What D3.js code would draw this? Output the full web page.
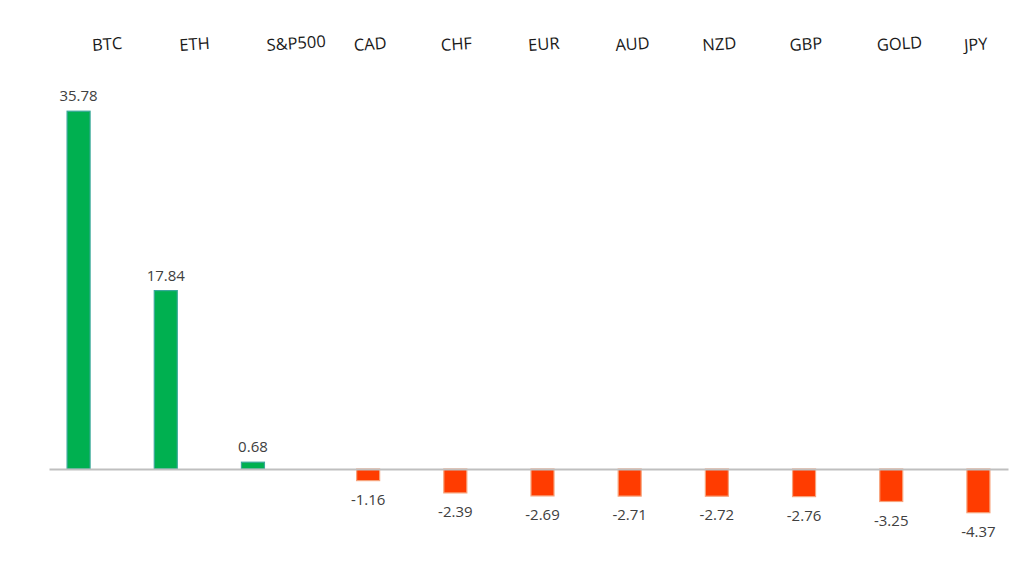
<!DOCTYPE html>
<html>
<head>
<meta charset="utf-8">
<script src="https://cdn.jsdelivr.net/npm/d3@7/dist/d3.min.js"></script>
<style>
  html, body { margin: 0; padding: 0; background: #fff; }
  svg { display: block; }
</style>
</head>
<body>
<script>
const categories = ["BTC", "ETH", "S&P500", "CAD", "CHF", "EUR", "AUD", "NZD", "GBP", "GOLD", "JPY"];
const values = [35.78, 17.84, 0.68, -1.16, -2.39, -2.69, -2.71, -2.72, -2.76, -3.25, -4.37];
const seriesNames = ["gain", "loss"];

const W = 1024, H = 576;
const svg = d3.select("body").append("svg").attr("width", W).attr("height", H);

const x = d3.scaleBand().domain(categories).range([49, 1008]).padding(0);
const xs = d3.scaleBand().domain(seriesNames).range([0, x.bandwidth()])
  .paddingInner(0.1786).paddingOuter(0.646);
const y = d3.scaleLinear().domain([-5, 40]).range([519, 69]);

const data = categories.map((c, i) => ({ cat: c, v: values[i], s: values[i] >= 0 ? "gain" : "loss" }));

// bars
svg.append("g").selectAll("rect").data(data).join("rect")
  .attr("x", d => x(d.cat) + xs(d.s))
  .attr("width", xs.bandwidth())
  .attr("y", d => y(Math.max(0, d.v)))
  .attr("height", d => Math.abs(y(d.v) - y(0)))
  .attr("fill", d => d.v >= 0 ? "#00B050" : "#FF3C00")
  .attr("stroke", d => d.v >= 0 ? "#3AA89A" : "#F7A27A")
  .attr("stroke-width", 1.2);

// baseline axis
const axis = svg.append("g").attr("transform", `translate(0,${y(0)})`)
  .call(d3.axisBottom(x).tickSize(0).tickFormat(""));
axis.select(".domain").attr("stroke", "#BFBFBF").attr("stroke-width", 2);

// value labels
svg.append("g").selectAll("text").data(data).join("text")
  .attr("x", d => x(d.cat) + xs(d.s) + xs.bandwidth() / 2)
  .attr("y", d => d.v >= 0 ? y(d.v) - 10 : y(d.v) + 24)
  .attr("text-anchor", "middle")
  .attr("font-family", "'Open Sans', sans-serif")
  .attr("font-size", 15)
  .attr("fill", "#404040")
  .text(d => d.v.toFixed(2));

// category labels (top, slightly tilted)
svg.append("g").selectAll("text").data(categories).join("text")
  .attr("transform", c => `translate(${x(c) + x.bandwidth() / 2},51) rotate(-4)`)
  .attr("text-anchor", "start")
  .attr("font-family", "'Open Sans', sans-serif")
  .attr("font-size", 16.5)
  .attr("fill", "#1a1a1a")
  .text(c => c);
</script>
</body>
</html>
